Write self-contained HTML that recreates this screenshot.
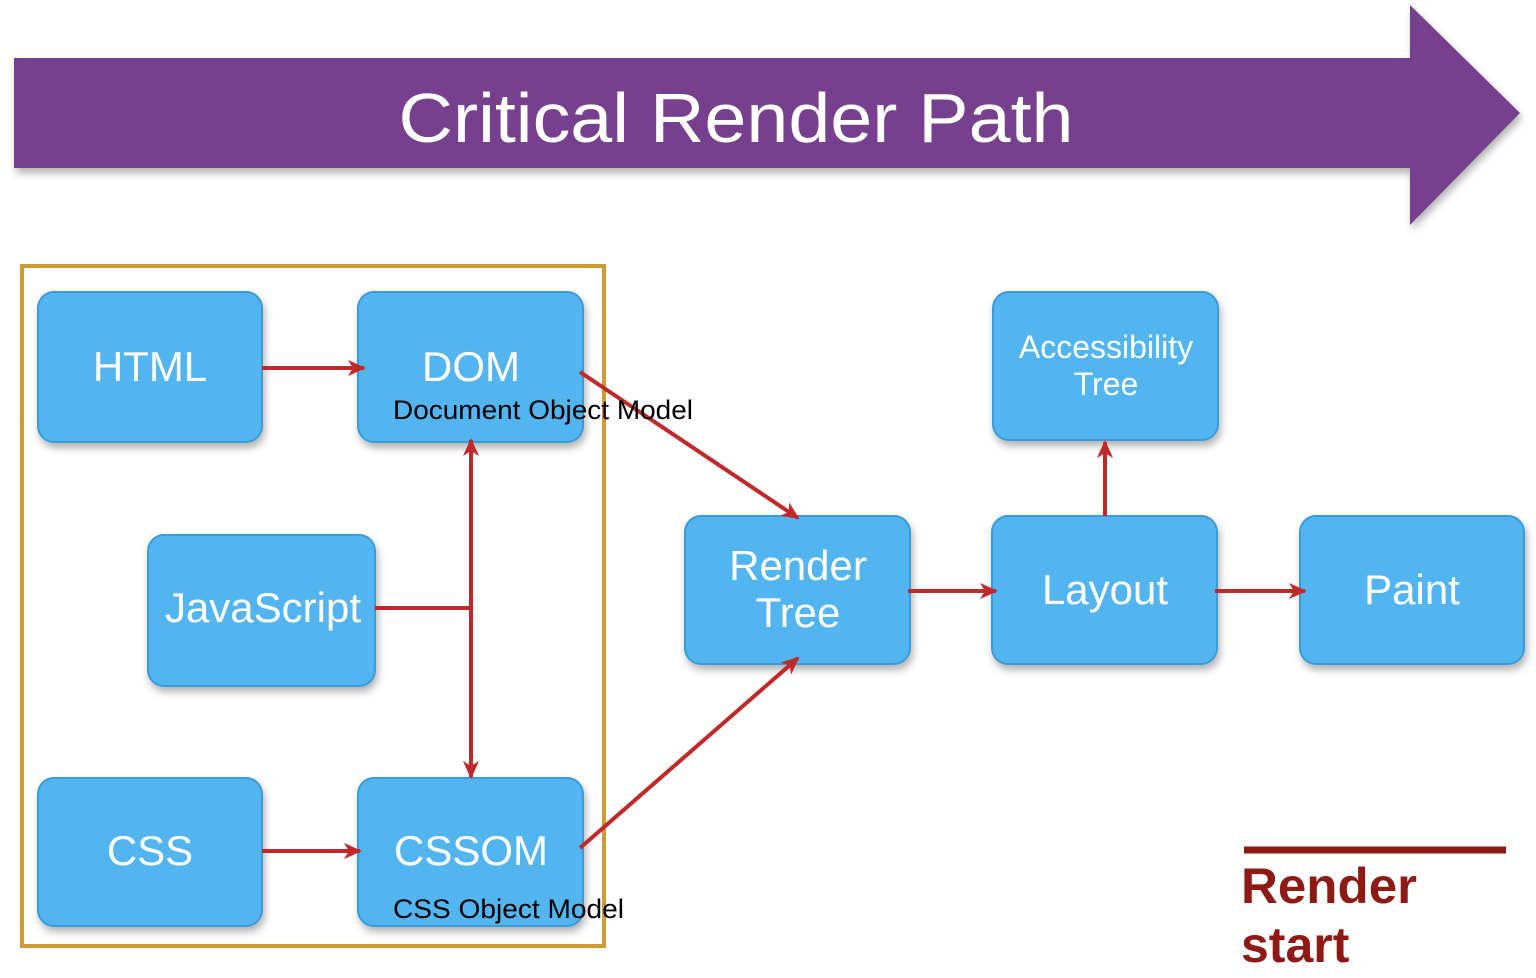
<!DOCTYPE html>
<html><head><meta charset="utf-8"><style>
html,body{margin:0;padding:0;background:#fff;}
svg{display:block}
</style></head><body>
<svg width="1536" height="978" viewBox="0 0 1536 978" xmlns="http://www.w3.org/2000/svg" font-family="Liberation Sans, sans-serif">
<defs>
<filter id="sh" x="-10%" y="-10%" width="130%" height="140%"><feDropShadow dx="2" dy="5" stdDeviation="4" flood-color="#000" flood-opacity="0.3"/></filter>
<marker id="ah" markerWidth="18" markerHeight="16" refX="16" refY="8" orient="auto" markerUnits="userSpaceOnUse"><path d="M0,0 L18,8 L0,16 L5,8 z" fill="#c0282a"/></marker>
</defs>
<polygon points="14,58 1410,58 1410,5 1520,113 1410,225 1410,168 14,168" fill="#77408e" filter="url(#sh)"/>
<text x="736" y="142" font-size="70" fill="#fff" text-anchor="middle" textLength="675" lengthAdjust="spacingAndGlyphs">Critical Render Path</text>
<rect x="22" y="266" width="582" height="680" fill="none" stroke="#d09a35" stroke-width="4"/>
<g fill="#52b5ef" stroke="#3a9ad8" stroke-width="2" filter="url(#sh)">
<rect x="38" y="292" width="224" height="150" rx="16"/>
<rect x="358" y="292" width="225" height="150" rx="16"/>
<rect x="148" y="535" width="227" height="151" rx="16"/>
<rect x="38" y="778" width="224" height="148" rx="16"/>
<rect x="358" y="778" width="225" height="148" rx="16"/>
<rect x="685" y="516" width="225" height="148" rx="16"/>
<rect x="992" y="516" width="225" height="148" rx="16"/>
<rect x="1300" y="516" width="224" height="148" rx="16"/>
<rect x="993" y="292" width="225" height="148" rx="16"/>
</g>
<g fill="#fff" text-anchor="middle" font-size="42">
<text x="150" y="381">HTML</text>
<text x="471" y="381">DOM</text>
<text x="263" y="622">JavaScript</text>
<text x="150" y="865">CSS</text>
<text x="471" y="865">CSSOM</text>
<text x="798" y="580">Render</text>
<text x="798" y="627">Tree</text>
<text x="1105" y="604">Layout</text>
<text x="1412" y="604">Paint</text>
<text x="1106" y="358" font-size="32">Accessibility</text>
<text x="1106" y="395" font-size="32">Tree</text>
</g>
<g stroke="#c0282a" stroke-width="4" fill="none" marker-end="url(#ah)">
<line x1="262" y1="368" x2="364" y2="368"/>
<line x1="262" y1="851" x2="360" y2="851"/>
<line x1="580" y1="372" x2="798" y2="518"/>
<line x1="580" y1="848" x2="798" y2="658"/>
<line x1="471" y1="608" x2="471" y2="440"/>
<line x1="471" y1="608" x2="471" y2="777"/>
<line x1="908" y1="591" x2="996" y2="591"/>
<line x1="1215" y1="591" x2="1305" y2="591"/>
<line x1="1105" y1="516" x2="1105" y2="442"/>
</g>
<line x1="375" y1="608" x2="471" y2="608" stroke="#c0282a" stroke-width="4"/>
<text x="393" y="419" font-size="27" fill="#000" textLength="300" lengthAdjust="spacingAndGlyphs">Document Object Model</text>
<text x="393" y="918" font-size="27" fill="#000" textLength="231" lengthAdjust="spacingAndGlyphs">CSS Object Model</text>
<line x1="1244" y1="850" x2="1506" y2="850" stroke="#8e1a16" stroke-width="7"/>
<text x="1241" y="903" font-size="50" font-weight="bold" fill="#8e1a16" textLength="176" lengthAdjust="spacingAndGlyphs">Render</text>
<text x="1241" y="962" font-size="50" font-weight="bold" fill="#8e1a16">start</text>
</svg>
</body></html>
